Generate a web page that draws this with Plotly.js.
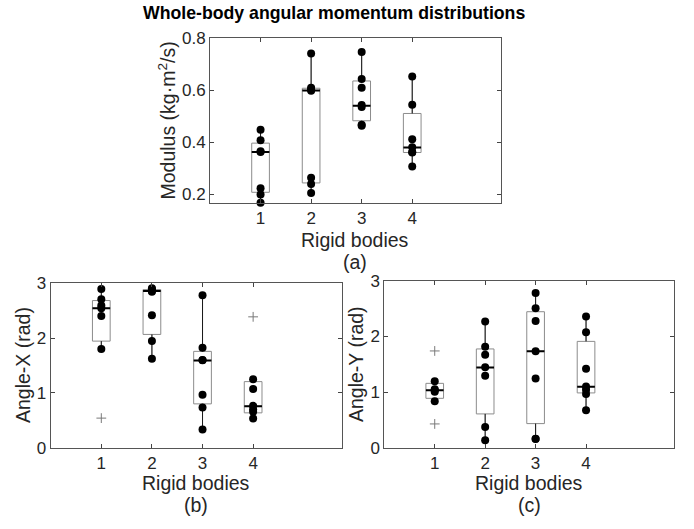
<!DOCTYPE html>
<html>
<head>
<meta charset="utf-8">
<script src="https://cdn.plot.ly/plotly-3.0.1.min.js"></script>
<style>html,body{margin:0;padding:0;background:#fff;}#chart{width:694px;height:529px;}</style>
</head>
<body>
<div id="chart"></div>
<script>
// ---------- DATA ----------
const categories = [1, 2, 3, 4];
const tickLabels = ['1', '2', '3', '4'];

// (a) Modulus
const modPoints = [
  [0.168, 0.200, 0.224, 0.363, 0.366, 0.408, 0.448],
  [0.205, 0.240, 0.264, 0.598, 0.603, 0.610, 0.742],
  [0.464, 0.468, 0.536, 0.544, 0.610, 0.644, 0.747],
  [0.307, 0.361, 0.363, 0.381, 0.412, 0.545, 0.653]
];
const modQ1  = [0.208, 0.244, 0.483, 0.361];
const modMed = [0.363, 0.599, 0.541, 0.380];
const modQ3  = [0.397, 0.608, 0.636, 0.511];
const modLo  = [0.168, 0.205, 0.464, 0.307];
const modHi  = [0.448, 0.742, 0.747, 0.653];
const modOutX = [];
const modOutY = [];

// (b) Angle-X
const angXPoints = [
  [1.800, 2.405, 2.545, 2.595, 2.709, 2.896],
  [1.624, 1.945, 2.418, 2.845, 2.860, 2.890, 2.909],
  [0.333, 0.733, 0.964, 1.594, 1.600, 1.824, 2.780],
  [0.533, 0.655, 0.700, 0.764, 1.073, 1.249]
];
const angXQ1  = [1.945, 2.067, 0.800, 0.636];
const angXMed = [2.545, 2.860, 1.590, 0.758];
const angXQ3  = [2.685, 2.885, 1.758, 1.206];
const angXLo  = [1.800, 1.624, 0.333, 0.533];
const angXHi  = [2.896, 2.909, 2.780, 1.249];
const angXOutX = [1, 4];
const angXOutY = [0.540, 2.388];

// (c) Angle-Y
const angYPoints = [
  [0.833, 1.005, 1.030, 1.050, 1.192],
  [0.133, 0.373, 1.294, 1.443, 1.671, 1.815, 2.269],
  [0.158, 0.160, 1.241, 1.731, 2.276, 2.503, 2.779],
  [0.671, 0.966, 1.040, 1.100, 1.420, 2.072, 2.359]
];
const angYQ1  = [0.887, 0.607, 0.433, 0.984];
const angYMed = [1.030, 1.440, 1.731, 1.097];
const angYQ3  = [1.156, 1.774, 2.443, 1.910];
const angYLo  = [0.833, 0.133, 0.158, 0.671];
const angYHi  = [1.192, 2.269, 2.779, 2.359];
const angYOutX = [1, 1];
const angYOutY = [1.738, 0.427];

// ---------- BUILD ----------
const BOXW = 0.35;
const FONT = 'Liberation Sans, Arial, Helvetica, sans-serif';
const TXT = '#262626';
const traces = [];

function addPanel(xa, ya, pts, q1, med, q3, lo, hi, ox, oy) {
  traces.push({
    type: 'box', xaxis: xa, yaxis: ya, x: categories,
    q1: q1, median: med, q3: q3, lowerfence: lo, upperfence: hi,
    width: BOXW, whiskerwidth: 0, boxpoints: false,
    fillcolor: 'rgba(255,255,255,0)', line: {color: '#8c8c8c', width: 1},
    hoverinfo: 'skip', showlegend: false
  });
  const wx = [], wy = [];
  categories.forEach((c, i) => {
    wx.push(c, c, null, c, c, null);
    wy.push(q3[i], hi[i], null, q1[i], lo[i], null);
  });
  traces.push({type: 'scatter', mode: 'lines', xaxis: xa, yaxis: ya, x: wx, y: wy,
    line: {color: '#1a1a1a', width: 1}, hoverinfo: 'skip', showlegend: false});
  const mx = [], my = [];
  categories.forEach((c, i) => {
    mx.push(c - BOXW / 2, c + BOXW / 2, null);
    my.push(med[i], med[i], null);
  });
  traces.push({type: 'scatter', mode: 'lines', xaxis: xa, yaxis: ya, x: mx, y: my,
    line: {color: '#000', width: 2}, hoverinfo: 'skip', showlegend: false});
  const px = [], py = [];
  categories.forEach((c, i) => {
    pts[i].forEach(v => { px.push(c); py.push(v); });
  });
  traces.push({type: 'scatter', mode: 'markers', xaxis: xa, yaxis: ya, x: px, y: py,
    marker: {color: '#000', size: 8}, hoverinfo: 'skip', showlegend: false, cliponaxis: false});
  if (ox.length) {
    traces.push({type: 'scatter', mode: 'markers', xaxis: xa, yaxis: ya, x: ox, y: oy,
      marker: {symbol: 'cross-thin-open', color: '#7a7a7a', size: 7, line: {color: '#7a7a7a', width: 1}},
      hoverinfo: 'skip', showlegend: false});
  }
}

addPanel('x', 'y', modPoints, modQ1, modMed, modQ3, modLo, modHi, modOutX, modOutY);
addPanel('x2', 'y2', angXPoints, angXQ1, angXMed, angXQ3, angXLo, angXHi, angXOutX, angXOutY);
addPanel('x3', 'y3', angYPoints, angYQ1, angYMed, angYQ3, angYLo, angYHi, angYOutX, angYOutY);

const W = 694, H = 529;
function xaxis(x0, x1, anchor) {
  return {domain: [x0 / W, x1 / W], anchor: anchor, range: [0, 5.75],
    tickvals: categories, ticktext: tickLabels, ticks: 'inside', ticklen: 4, tickcolor: '#444',
    mirror: 'allticks', showline: true, linecolor: '#555', linewidth: 1,
    showgrid: false, zeroline: false, tickfont: {family: FONT, size: 17, color: TXT}, fixedrange: true};
}
function yaxis(y0, y1, anchor, range, tv) {
  return {domain: [1 - y1 / H, 1 - y0 / H], anchor: anchor, range: range,
    tickvals: tv, ticktext: tv.map(String), ticks: 'inside', ticklen: 4, tickcolor: '#444',
    mirror: 'allticks', showline: true, linecolor: '#555', linewidth: 1,
    showgrid: false, zeroline: false, tickfont: {family: FONT, size: 17, color: TXT}, fixedrange: true};
}

function ann(text, x, y, opts) {
  return Object.assign({text: text, x: x / W, y: 1 - y / H, xref: 'paper', yref: 'paper',
    showarrow: false, xanchor: 'center', yanchor: 'middle',
    font: {family: FONT, size: 19.5, color: TXT}}, opts || {});
}

const layout = {
  width: W, height: H, margin: {l: 0, r: 0, t: 0, b: 0},
  paper_bgcolor: '#fff', plot_bgcolor: '#fff', showlegend: false,
  xaxis: xaxis(210, 500.7, 'y'),
  yaxis: yaxis(38.3, 202.7, 'x', [0.168, 0.8], [0.2, 0.4, 0.6, 0.8]),
  xaxis2: xaxis(50.7, 341.7, 'y2'),
  yaxis2: yaxis(283.3, 447.7, 'x2', [0, 3], [0, 1, 2, 3]),
  xaxis3: xaxis(384.3, 674.3, 'y3'),
  yaxis3: yaxis(280.7, 447.7, 'x3', [0, 3], [0, 1, 2, 3]),
  annotations: [
    ann('<b>Whole-body angular momentum distributions</b>', 334, 13, {font: {family: FONT, size: 17.7, color: '#000'}}),
    ann('Rigid bodies', 355.3, 240),
    ann('(a)', 355.3, 262),
    ann('Modulus (kg·m<sup>2</sup>/s)', 166, 120.5, {textangle: -90}),
    ann('Rigid bodies', 196.2, 483),
    ann('(b)', 196.2, 505),
    ann('Angle-X (rad)', 22.5, 365.5, {textangle: -90}),
    ann('Rigid bodies', 529.3, 483),
    ann('(c)', 529.3, 505),
    ann('Angle-Y (rad)', 356, 364, {textangle: -90})
  ]
};

Plotly.newPlot('chart', traces, layout, {staticPlot: true, displayModeBar: false});
</script>
</body>
</html>
